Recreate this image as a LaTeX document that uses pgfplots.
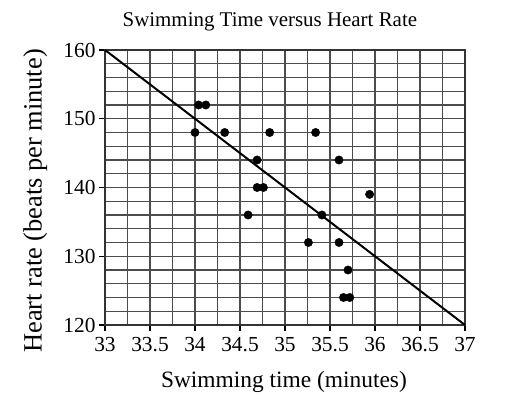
\documentclass[border=0pt]{standalone}
\usepackage{fontspec}
\setmainfont{Liberation Serif}
\usepackage{pgfplots}
\pgfplotsset{compat=1.18}
\begin{document}
\begin{tikzpicture}[x=1bp,y=1bp]
\begin{axis}[
  name=ax,
  scale only axis,
  width=360bp, height=275bp,
  xmin=33, xmax=37, ymin=120, ymax=160,
  xtick={33,33.5,...,37},
  xticklabels={33,33.5,34,34.5,35,35.5,36,36.5,37},
  minor xtick={33.25,33.75,...,36.75},
  ytick={120,130,...,160},
  minor ytick={122,124,...,158},
  grid=both,
  grid style={draw=black!70, line width=1.2bp},
  minor grid style={draw=black!70, line width=1.2bp},
  axis line style={draw=black!80, line width=1.2bp},
  tick align=outside,
  tick pos=left,
  major tick length=6bp,
  minor tick length=0bp,
  tick style={black, line width=1.2bp},
  /pgf/number format/assume math mode=true,
  ticklabel style={font=\fontsize{21.5}{25}\selectfont},
  xticklabel style={yshift=-3bp},
  title={Swimming Time versus Heart Rate},
  title style={font=\fontsize{21}{25}\selectfont, at={(axis description cs:0.458,1.065)}, anchor=base},
  xlabel={Swimming time (minutes)},
  ylabel={Heart rate (beats per minute)},
  xlabel style={font=\fontsize{23.5}{27}\selectfont, at={(axis description cs:0.497,-0.2255)}, anchor=base},
  ylabel style={font=\fontsize{26.5}{30}\selectfont, at={(axis description cs:-0.194,0.451)}, anchor=center},
  clip=false,
]
\addplot[only marks, mark=*, mark size=4.2bp, black] coordinates {
  (34.00,148) (34.04,152) (34.12,152) (34.33,148) (34.83,148)
  (34.69,144) (34.69,140) (34.76,140) (34.59,136)
  (35.34,148) (35.60,144) (35.94,139) (35.41,136)
  (35.26,132) (35.60,132) (35.70,128) (35.65,124) (35.72,124)
};
\addplot[black, line width=2bp] coordinates {(33,160) (37,120)};
\end{axis}
\path (ax.south west) ++(-105bp,-74bp) coordinate (bl);
\path (ax.north east) ++(41bp,50bp) coordinate (tr);
\useasboundingbox (bl) rectangle (tr);
\end{tikzpicture}
\end{document}
